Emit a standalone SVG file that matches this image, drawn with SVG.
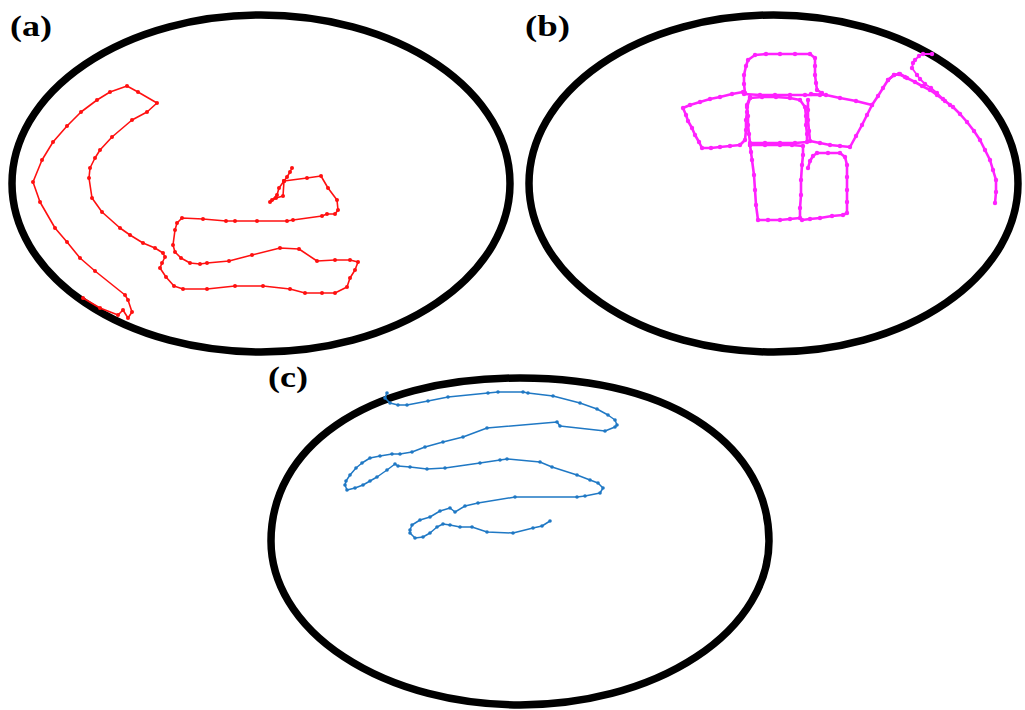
<svg xmlns="http://www.w3.org/2000/svg" width="1025" height="710" viewBox="0 0 1025 710">
<style>
.ell{fill:none;stroke:#000;stroke-width:7.5}
.lbl{font-family:"Liberation Serif","DejaVu Serif",serif;font-weight:bold;font-size:30px;fill:#000}
.red{fill:none;stroke:#ff1010;stroke-width:1.6;stroke-linejoin:round;marker-start:url(#dr);marker-mid:url(#dr);marker-end:url(#dr)}
.mag{fill:none;stroke:#ff22ff;stroke-width:2.6;stroke-linejoin:round;marker-start:url(#dm);marker-mid:url(#dm);marker-end:url(#dm)}
.blu{fill:none;stroke:#1f78c4;stroke-width:1.5;stroke-linejoin:round;marker-start:url(#db);marker-mid:url(#db);marker-end:url(#db)}
</style>
<defs>
<marker id="dr" viewBox="-3 -3 6 6" markerWidth="6" markerHeight="6" markerUnits="userSpaceOnUse"><circle r="2" fill="#ff1010"/></marker>
<marker id="dm" viewBox="-3 -3 6 6" markerWidth="6" markerHeight="6" markerUnits="userSpaceOnUse"><circle r="2.2" fill="#ff22ff"/></marker>
<marker id="db" viewBox="-3 -3 6 6" markerWidth="6" markerHeight="6" markerUnits="userSpaceOnUse"><circle r="1.8" fill="#1f78c4"/></marker>
</defs>
<rect width="1025" height="710" fill="#fff"/>
<g id="panel-a">
<ellipse class="ell" cx="261" cy="183.5" rx="249" ry="168.5"/>
<text class="lbl" x="10" y="36" textLength="42" lengthAdjust="spacingAndGlyphs">(a)</text>
<path class="red" d="M83,298 L100,308 L118,315 L123,310 L128,318 L132,312 L128,300 L125,295 L95,271 L80,258 L67,242 L55,228 L40,202 L33,182 L42,160 L53,142 L67,126 L81,112 L97,100 L110,92 L127,86 L138,92 L157,103 L147,112 L132,120 L112,137 L100,150 L95,158 L90,168 L89,178 L92,198 L102,212 L120,228 L130,235 L143,243 L155,248 L163,253 L165,257 L162,263 L160,268 L166,277 L174,286 L183,289 L207,289 L235,286 L263,286 L290,289 L305,293 L322,293 L335,293 L347,287 L350,278 L355,270 L358,262 L350,260 L335,260 L317,261 L299,249 L280,248 L252,255 L229,261 L207,263 L200,264 L190,263 L181,258 L175,252 L173,245 L175,230 L177,223 L182,218 L203,219 L226,221 L235,221 L257,221 L287,221 L293,220 L322,216 L327,214 L335,214 L338,210 L337,200 L328,188 L321,176 L307,178 L284,181 L283,196 L276,198 L270,202"/>
<path class="red" d="M284,181 L287,177 L290,172 L292,168"/>
<path class="red" d="M284,181 L279,188 L277,195 L272,200"/>
</g>
<g id="panel-b">
<ellipse class="ell" cx="773.5" cy="183.5" rx="244.5" ry="168.5"/>
<text class="lbl" x="525" y="36" textLength="45" lengthAdjust="spacingAndGlyphs">(b)</text>
<path class="mag" d="M743,92 L732,94 L720,97 L710,99 L700,102 L690,105 L683,108 L686,115 L688,121 L692,128 L695,135 L699,142 L702,148 L711,148 L720,147 L730,146 L740,145 L745,140 L746,130 L746,120 L747,112 L747,105 L750,97"/>
<path class="mag" d="M745,93 L744,84 L744,75 L746,66 L748,60 L755,55 L766,54 L780,54 L795,54 L810,54 L815,58 L815,66 L815,75 L816,83 L817,90 L822,93"/>
<path class="mag" d="M744,94 L760,95 L775,95 L790,95 L805,95 L820,95"/>
<path class="mag" d="M750,98 L762,97 L776,97 L790,98 L800,100 L805,107 L806,116 L806,125 L807,134 L807,142 L795,143 L780,143 L765,143 L750,143 L749,134 L748,125 L748,116 L747,107 L750,98"/>
<path class="mag" d="M811,94 L826,95 L840,98 L856,101 L872,105 L878,96 L883,88 L888,80 L894,75 L899,74 L905,77"/>
<path class="mag" d="M872,105 L867,115 L862,125 L856,136 L850,147 L840,146 L830,145 L820,143 L810,141 L809,131 L808,120 L808,110 L808,100"/>
<path class="mag" d="M750,145 L765,145 L780,145 L792,145 L803,146 L803,155 L802,165 L801,180 L801,195 L800,208 L800,218 L790,219 L780,220 L768,220 L758,220 L756,205 L755,190 L754,175 L752,160 L751,152 L750,145"/>
<path class="mag" d="M808,168 L810,161 L813,156 L817,153 L828,153 L840,153 L845,157 L847,165 L847,177 L847,190 L847,202 L847,213 L843,215 L832,216 L820,218 L810,219 L802,220"/>
<path class="mag" d="M888,80 L894,75 L900,74 L907,78 L915,82 L922,86 L930,90 L937,95 L945,101 L953,107 L960,114 L967,122 L974,131 L980,140 L985,150 L990,160 L993,170 L996,180 L996,192 L995,203"/>
<path class="mag" style="stroke-width:1.8" d="M950,105 L943,99 L937,93 L931,88 L925,84 L920,79 L917,75 L912,68 L913,63 L915,60 L919,56 L923,54 L932,54"/>
</g>
<g id="panel-c">
<path class="ell" d="M271,541 C271,450 361,378 520,378 C679,378 769,450 769,541 A249,164 0 0 1 271,541 Z"/>
<text class="lbl" x="268" y="387" textLength="40" lengthAdjust="spacingAndGlyphs">(c)</text>
<path class="blu" d="M387,393 L385,398 L390,403 L398,405 L407,405 L428,401 L448,397 L488,393 L498,392 L523,392 L528,393 L553,396 L580,403 L597,409 L608,415 L615,420 L617,425 L615,427 L605,431 L560,426 L557,422 L487,428 L463,437 L443,442 L425,447 L412,452 L400,454 L392,454 L380,456 L370,458 L362,463 L356,468 L350,475 L346,481 L345,485 L347,490 L355,488 L363,485 L370,481 L377,477 L387,470 L395,464 L398,466 L410,467 L427,469 L445,468 L480,463 L500,460 L507,459 L540,462 L552,467 L577,475 L590,480 L598,483 L603,488 L600,493 L585,496 L577,497 L515,497 L478,503 L465,506 L455,512 L450,508 L440,511 L430,517 L420,520 L412,525 L410,530 L410,533 L415,538 L423,537 L430,533 L437,527 L443,524 L450,525 L460,527 L472,527 L487,532 L513,533 L533,528 L542,526 L550,521"/>
</g>
</svg>
